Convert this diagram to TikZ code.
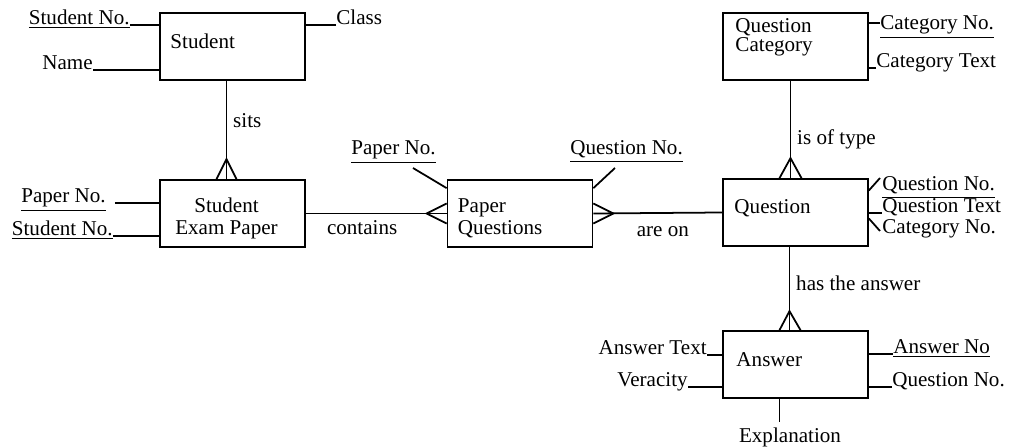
\documentclass[tikz,border=0pt]{standalone}
\usepackage{fontspec}
\setmainfont{Liberation Serif}

\begin{document}
\begin{tikzpicture}[
  x=0.02cm, y=-0.02cm,
  entity/.style={rectangle, draw, line width=1pt, minimum width=2.9cm, minimum height=1.34cm, inner sep=0pt},
  etext/.style={inner sep=0pt, align=left},
  attr/.style={inner sep=0pt},
  rel/.style={line width=1pt},
  font=\fontsize{12}{12.5}\selectfont
]
\useasboundingbox (0,0) rectangle (1009,448);

% entities
\node[entity] (stu) at (232.5,46.5) {};
\node[entity] (sep) at (232.5,213.5) {};
\node[entity] (pq)  at (520,213.5) {};
\node[entity] (que) at (795.5,212.5) {};
\node[entity] (qc)  at (795.5,46.5) {};
\node[entity] (ans) at (795.5,364.5) {};

\node[etext, anchor=west] (stut) at ([shift={(11,29)}]stu.north west) {Student};
\node[etext, align=center] (sept) at ([shift={(-6,5)}]sep.center) {Student\\Exam Paper};
\node[etext, anchor=west] (pqt) at ([shift={(11,5)}]pq.west) {Paper\\Questions};
\node[etext, anchor=west] (quet) at ([shift={(12,-4.5)}]que.west) {Question};
\node[etext, anchor=west, font=\fontsize{12}{11}\selectfont] (qct) at ([shift={(13,-9)}]qc.west) {Question\\Category};
\node[etext, anchor=west] (anst) at ([shift={(14,-4.5)}]ans.west) {Answer};

% attributes
\node[attr, anchor=base east] (sno1) at (130,25) {\underline{Student No.}};
\node[attr, anchor=base east] (snm) at (93,70) {Name};
\node[attr, anchor=base west] (scl) at (336,25) {Class};
\node[attr, anchor=base east] (pno1) at (106,203) {\underline{Paper No.}};
\node[attr, anchor=base east] (sno2) at (113,236) {\underline{Student No.}};
\node[attr, anchor=base west] (pno2) at (351,155) {\underline{Paper No.}};
\node[attr, anchor=base west] (qno1) at (570,155) {\underline{Question No.}};
\node[attr, anchor=base west] (cno) at (880,30) {\underline{Category No.}};
\node[attr, anchor=base west] (ctx) at (876,68) {Category Text};
\node[attr, anchor=base west] (qno2) at (882,191) {\underline{Question No.}};
\node[attr, anchor=base west] (qtx) at (882,213) {Question Text};
\node[attr, anchor=base west] (qcat) at (882,234) {Category No.};
\node[attr, anchor=base east] (atx) at (707,355) {Answer Text};
\node[attr, anchor=base east] (ver) at (688,387) {Veracity};
\node[attr, anchor=base west] (ano) at (893,354) {\underline{Answer No}};
\node[attr, anchor=base west] (aqn) at (892,387) {Question No.};
\node[attr, inner ysep=3pt] (expl) at (790,437) {Explanation};

\draw[rel] (sno1.base east) -- (sno1.base east -| stu.west);
\draw[rel] (snm.base east) -- (snm.base east -| stu.west);
\draw[rel] (scl.base west) -- (scl.base west -| stu.east);
\draw[rel] ([xshift=0.18cm]pno1.base east) -- (pno1.base east -| sep.west);
\draw[rel] (sno2.base east) -- (sno2.base east -| sep.west);
\draw[rel] ([shift={(62,13)}]pno2.base west) -- ([shift={(0,9)}]pq.north west);
\draw[rel] ([shift={(0,9)}]pq.north east) -- ([shift={(45,13)}]qno1.base west);
\draw[rel] ([shift={(0,-7)}]cno.base west) -- ([shift={(0,-7)}]cno.base west -| qc.east);
\draw[rel] (ctx.base west) -- (ctx.base west -| qc.east);
\draw[rel] ([shift={(0,-22)}]que.east) -- ([shift={(-2,-13)}]qno2.base west);
\draw[rel] (qtx.base west) -- (qtx.base west -| que.east);
\draw[rel] ([shift={(0,6)}]que.east) -- ([shift={(-2,-3)}]qcat.base west);
\draw[rel] (atx.base east) -- (atx.base east -| ans.west);
\draw[rel] (ver.base east) -- (ver.base east -| ans.west);
\draw[rel] (ano.base west) -- (ano.base west -| ans.east);
\draw[rel] (aqn.base west) -- (aqn.base west -| ans.east);
\draw[rel] ([shift={(-16,0)}]ans.south) -- ([shift={(-16,0)}]ans.south |- expl.north);

% relationships
\draw[rel] ([shift={(-6,0)}]stu.south) -- node[pos=.4, right] {sits} ([shift={(-6,0)}]sep.north);
\draw[rel] ([shift={(-16,0)}]sep.north) -- ([shift={(-6,-20)}]sep.north) -- ([shift={(4,0)}]sep.north);

\draw[rel] (sep.east) -- node[pos=.4, below] {contains} (pq.west);
\draw[rel] ([shift={(0,-10)}]pq.west) -- ([shift={(-20,0)}]pq.west) -- ([shift={(0,10)}]pq.west);

\draw[rel] (pq.east) -- node[pos=.54, below, yshift=-0.14cm] {are on} (que.west);
\draw[rel] ([shift={(0,-10)}]pq.east) -- ([shift={(20,0)}]pq.east) -- ([shift={(0,10)}]pq.east);

\draw[rel] ([shift={(-5,0)}]qc.south) -- node[pos=.6, right] {is of type} ([shift={(-5,0)}]que.north);
\draw[rel] ([shift={(-16,0)}]que.north) -- ([shift={(-5,-20)}]que.north) -- ([shift={(6,0)}]que.north);

\draw[rel] ([shift={(-6,0)}]que.south) -- node[pos=.44, right] {has the answer} ([shift={(-6,0)}]ans.north);
\draw[rel] ([shift={(-16,0)}]ans.north) -- ([shift={(-6,-19)}]ans.north) -- ([shift={(5,0)}]ans.north);
\end{tikzpicture}
\end{document}
